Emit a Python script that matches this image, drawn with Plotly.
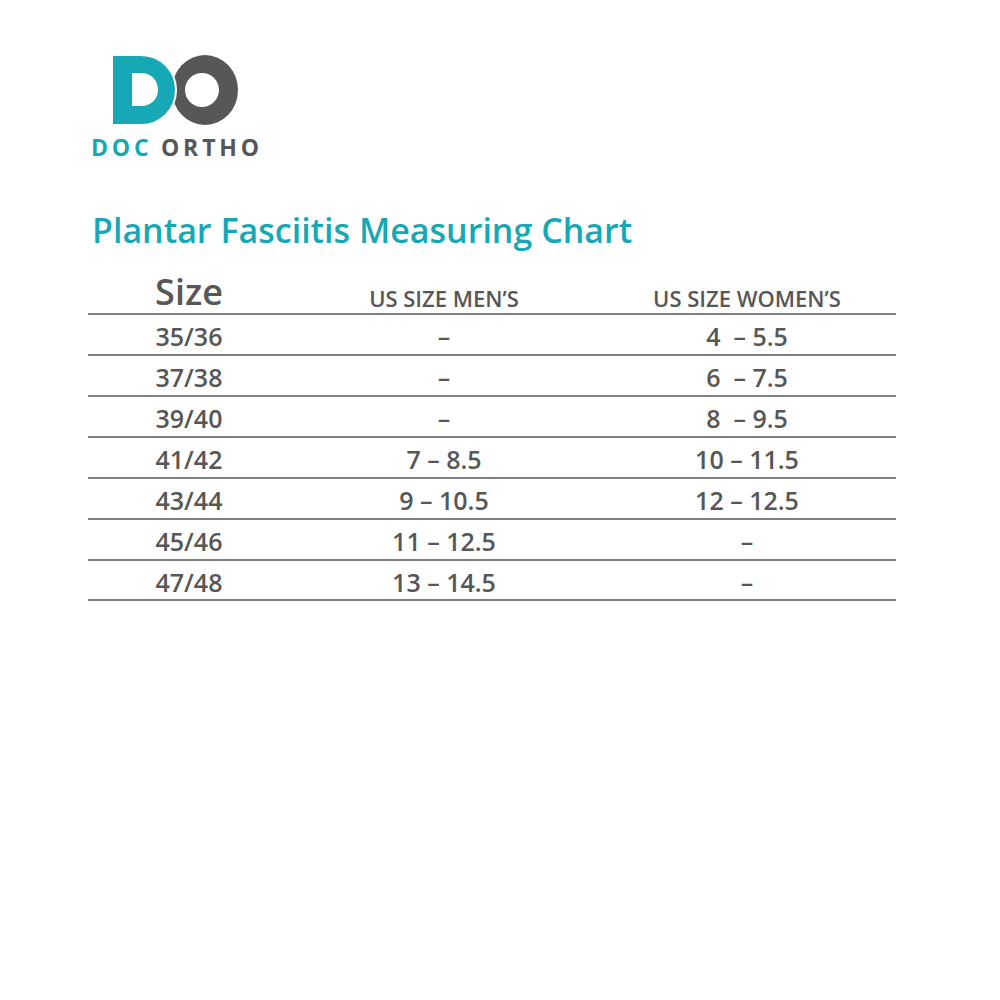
import plotly.graph_objects as go

title = "Plantar Fasciitis Measuring Chart"
headers = ["Size", "US SIZE MEN’S", "US SIZE WOMEN’S"]
sizes = ["35/36", "37/38", "39/40", "41/42", "43/44", "45/46", "47/48"]
mens = ["–", "–", "–", "7 – 8.5", "9 – 10.5", "11 – 12.5", "13 – 14.5"]
womens = ["4  – 5.5", "6  – 7.5", "8  – 9.5", "10 – 11.5", "12 – 12.5", "–", "–"]

TEAL = "#17A8B5"
GRAY = "#575757"
OFF = 8  # browser page margin
col_x = [189 - OFF, 444 - OFF, 747 - OFF]
row0, row_h = 340 - OFF, 41
FONT = "Open Sans"

fig = go.Figure()
rows_y = [row0 + row_h * i for i in range(len(sizes))]
for cx, col in zip(col_x, [sizes, mens, womens]):
    fig.add_trace(go.Scatter(x=[cx] * len(col), y=rows_y, text=col, mode="text",
                             textfont=dict(family=FONT, size=25, color=GRAY, weight=600),
                             hoverinfo="skip", showlegend=False))
fig.add_trace(go.Scatter(x=col_x, y=[296 - OFF, 301 - OFF, 301 - OFF], text=headers, mode="text",
                         textfont=dict(family=FONT, size=[36, 22, 22], color=GRAY, weight=600),
                         hoverinfo="skip", showlegend=False))

shapes = []
for i in range(len(sizes) + 1):
    y = 314 - OFF + row_h * i - (1 if i == len(sizes) else 0)
    shapes.append(dict(type="line", x0=88 - OFF, x1=896 - OFF, y0=y, y1=y,
                       line=dict(color=GRAY, width=1.6)))

# logo
shapes.append(dict(type="circle", x0=172 - OFF, x1=238 - OFF, y0=55 - OFF, y1=125 - OFF,
                   fillcolor=GRAY, line=dict(width=0)))
shapes.append(dict(type="circle", x0=185 - OFF, x1=219 - OFF, y0=73 - OFF, y1=107 - OFF,
                   fillcolor="white", line=dict(width=0)))
shapes.append(dict(type="path",
                   path="M104,47 H133 C153,47 168,63 168,82 C168,101 153,117 133,117 H104 Z",
                   fillcolor=TEAL, line=dict(color="white", width=2)))
shapes.append(dict(type="path",
                   path="M124,65 H133 C143,65 150,72 150,82 C150,91 143,98 133,98 H124 Z",
                   fillcolor="white", line=dict(width=0)))

ts = "\u2009"
annotations = [
    dict(x=90 - OFF, y=230 - OFF, text=title, showarrow=False, xanchor="left", yanchor="middle",
         font=dict(family=FONT, size=34, color=TEAL, weight=600)),
    dict(x=89 - OFF, y=147 - OFF, text=ts.join("DOC"),
         showarrow=False, xanchor="left", yanchor="middle",
         font=dict(family=FONT, size=23, color=TEAL, weight=700)),
    dict(x=159 - OFF, y=147 - OFF, text=ts.join("ORTHO"),
         showarrow=False, xanchor="left", yanchor="middle",
         font=dict(family=FONT, size=23, color=GRAY, weight=700)),
]

fig.update_layout(width=1000, height=1000, margin=dict(l=0, r=0, t=0, b=0),
                  paper_bgcolor="white", plot_bgcolor="white",
                  xaxis=dict(range=[0, 1000], visible=False, fixedrange=True),
                  yaxis=dict(range=[1000, 0], visible=False, fixedrange=True),
                  shapes=shapes, annotations=annotations)
fig.write_html("out.html")
